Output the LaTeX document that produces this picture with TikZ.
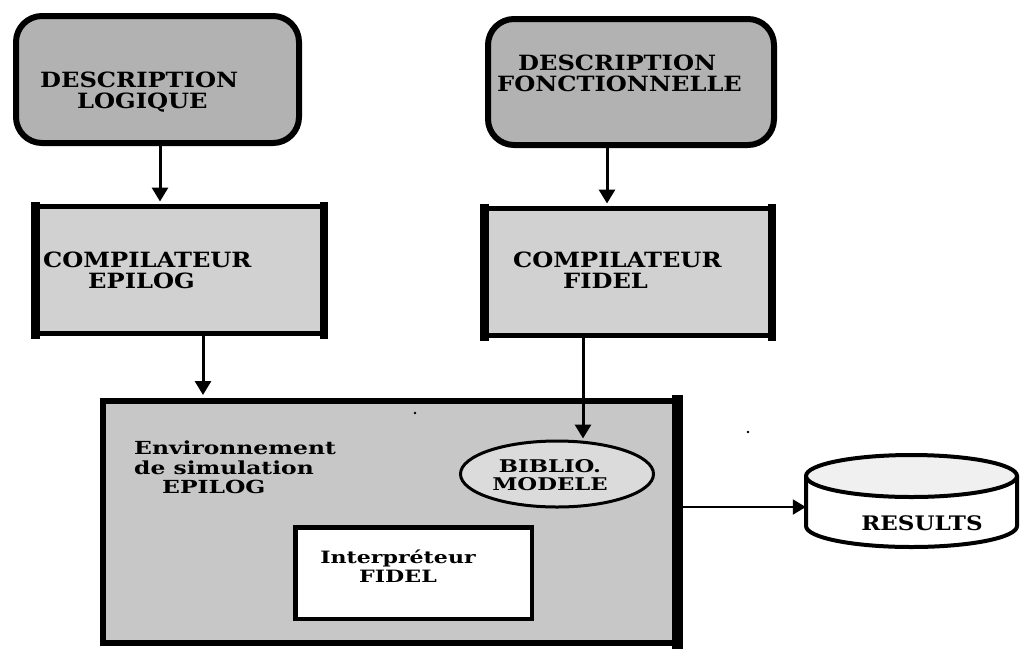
\documentclass[tikz,border=0pt]{standalone}
\usepackage{fontspec}
\usetikzlibrary{arrows.meta,shapes.geometric}
\newfontfamily\capfont[FakeStretch=1.15]{DejaVu Serif}
\newfontfamily\widefont[FakeStretch=1.3]{DejaVu Serif}
\begin{document}
\begin{tikzpicture}[x=1pt,y=-1pt,
  rbox/.style={draw, line width=6pt, rounded corners=26pt, fill=black!30, inner sep=0pt},
  sbox/.style={draw, line width=5pt, fill=black!18, inner sep=0pt},
  arr/.style={line width=3pt, -{Triangle[length=14pt,width=16pt]}},
  caps/.style={font=\capfont\bfseries\fontsize{21}{21}\selectfont, inner sep=0pt, align=left},
  small/.style={font=\widefont\bfseries\fontsize{18}{19.5}\selectfont, inner sep=0pt},
  cyl/.style={line width=4pt}]
\useasboundingbox (0,0) rectangle (1025,649);
\fill[white] (0,0) rectangle (1025,649);

% top boxes
\node[rbox, minimum width=283pt, minimum height=127pt] (b1) at (157.5,79.5) {};
\node[rbox, minimum width=286pt, minimum height=126pt] (b2) at (631,82) {};
% compiler boxes
\node[sbox, minimum width=287pt, minimum height=127pt] (b3) at (179,270) {};
\node[sbox, minimum width=286pt, minimum height=127pt] (b4) at (627.5,272) {};
\draw[line width=9pt] ([xshift=2pt,yshift=2.5pt]b3.north west) -- ([xshift=2pt,yshift=-2.5pt]b3.south west);
\draw[line width=8pt] ([xshift=-1.5pt,yshift=2.5pt]b3.north east) -- ([xshift=-1.5pt,yshift=-2.5pt]b3.south east);
\draw[line width=9pt] ([xshift=2pt,yshift=2.5pt]b4.north west) -- ([xshift=2pt,yshift=-2.5pt]b4.south west);
\draw[line width=8pt] ([xshift=-1.5pt,yshift=2.5pt]b4.north east) -- ([xshift=-1.5pt,yshift=-2.5pt]b4.south east);

% big environment box
\node[draw, line width=6pt, fill=black!22, inner sep=0pt, minimum width=576pt, minimum height=242pt] (big) at (391,522) {};
\draw[line width=11pt] ([xshift=-5pt,yshift=3pt]big.north east) -- ([xshift=-5pt,yshift=-3pt]big.south east);
\node[draw, line width=3pt, fill=black!14, ellipse, inner sep=0pt, minimum width=193pt, minimum height=66pt] (bib) at (557,474) {};
\node[draw, line width=4.5pt, fill=white, inner sep=0pt, minimum width=236.5pt, minimum height=91.5pt] (interp) at (413.5,573) {};

% results cylinder
\node[inner sep=0pt, minimum width=211pt, minimum height=60pt] (res) at (911.5,507) {};
\fill[white] (806,476) -- (806,526) arc[start angle=180, end angle=360, x radius=105.5pt, y radius=21pt] -- (1017,476) -- cycle;
\draw[cyl] (806,476) -- (806,526) arc[start angle=180, end angle=360, x radius=105.5pt, y radius=21pt] -- (1017,476);
\draw[cyl, fill=black!6] (911.5,476) ellipse [x radius=105.5pt, y radius=21pt];

% texts
\node[caps, anchor=north west] (t1) at (40,72) {DESCRIPTION\\\hspace*{37pt}LOGIQUE};
\node[caps, anchor=north west] (t2) at (497,55) {\hspace*{21pt}DESCRIPTION\\FONCTIONNELLE};
\node[caps, anchor=north west] (t3) at (43,252) {COMPILATEUR\\\hspace*{45pt}EPILOG};
\node[caps, anchor=north west] (t4) at (513,252) {COMPILATEUR\\\hspace*{50pt}FIDEL};
\node[small, align=left, anchor=north west] (t5) at (134,441) {Environnement\\de simulation\\\hspace*{28pt}EPILOG};
\node[small, align=center, anchor=north, font=\widefont\bfseries\fontsize{17.5}{18}\selectfont] (t6) at (550,459) {BIBLIO.\\MODELE};
\node[small, align=center, anchor=north, font=\widefont\bfseries\fontsize{17}{19}\selectfont] (t7) at (398,550) {Interpréteur\\FIDEL};
\node[caps, anchor=north, font=\capfont\bfseries\fontsize{20}{22}\selectfont] (t8) at (922,515) {RESULTS};

% connectors
\coordinate (x1) at (160,0);
\coordinate (x2) at (607,0);
\coordinate (x3) at (203,0);
\coordinate (x4) at (583,0);
\draw[arr] (b1.south -| x1) -- ([yshift=2.5pt]b3.north -| x1);
\draw[arr] (b2.south -| x2) -- ([yshift=2.5pt]b4.north -| x2);
\draw[arr] (b3.south -| x3) -- ([yshift=3pt]big.north -| x3);
\draw[arr] (b4.south -| x4) -- ([yshift=1pt]bib.north -| x4);
\draw[line width=2pt, -{Triangle[length=13pt,width=15pt]}] (big.east |- res.west) -- (res.west);

% scan specks
\fill (415,413) circle[radius=1.3pt];
\fill (748,432) circle[radius=1.3pt];
\end{tikzpicture}
\end{document}
